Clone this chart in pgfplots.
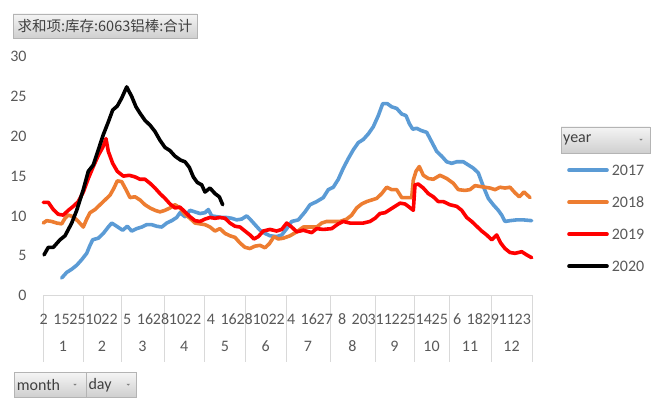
\documentclass[border=0pt]{standalone}
\usepackage{fontspec}
\setmainfont{Carlito}
\newfontfamily\cjk{Noto Sans CJK SC}
\usepackage{pgfplots}
\pgfplotsset{compat=1.18}
\definecolor{c17}{HTML}{5B9BD5}
\definecolor{c18}{HTML}{ED7D31}
\definecolor{c19}{HTML}{FF0000}
\definecolor{txt}{HTML}{595959}
\definecolor{btxt}{HTML}{404040}
\definecolor{sep}{HTML}{D9D9D9}
\definecolor{btop}{HTML}{F4F4F4}
\definecolor{bbot}{HTML}{CFCFCF}
\definecolor{bdraw}{HTML}{B4B4B4}
\begin{document}
\begin{tikzpicture}[x=1pt,y=1pt]
\useasboundingbox (0,0) rectangle (654,406);
\begin{axis}[
 at={(43pt,110.5pt)}, anchor=south west, scale only axis,
 width=489pt, height=238.8pt,
 xmin=43, xmax=532, ymin=0, ymax=30,
 clip=false,
 axis x line*=bottom, axis y line*=left,
 x axis line style={draw=sep, line width=0.8pt, -},
 y axis line style={draw=none},
 ytick={0,5,...,30}, ytick style={draw=none},
 /pgf/number format/assume math mode=true,
 yticklabel style={font=\fontsize{16}{19}\selectfont, text=txt, anchor=east, inner sep=0pt, xshift=-16.3pt},
 xtick={43.7,61.5,77.5,93.5,109.5,127.3,145.1,161.1,177.1,193.1,210.9,228.7,244.7,260.7,276.7,291.3,308.8,324.8,342.3,359.8,371.8,383.8,399.8,411.8,423.8,439.8,457.3,474.8,490.8,506.8,522.8},
 xticklabels={2,15,25,10,22,5,16,28,10,22,4,16,28,10,22,4,16,27,8,20,3,11,22,5,14,25,6,18,29,11,23},
 xticklabel style={font=\fontsize{16}{19}\selectfont, text=txt, anchor=base, inner sep=0pt, yshift=-29.2pt},
 major tick length=0pt,
 minor xtick={43,83,121,164,204.5,245.5,286,330,375,414,449,491,532},
 minor tick length=66.5pt, tick align=outside,
 minor tick style={draw=sep, line width=0.8pt},
 extra x ticks={63,102,142.5,184.25,225,265.75,308,352.5,394.5,431.5,470,511.5},
 extra x tick labels={1,2,3,4,5,6,7,8,9,10,11,12},
 extra x tick style={major tick length=0pt, xticklabel style={yshift=-27pt}},
 every axis plot/.append style={line width=3.6pt, line cap=round, line join=round, mark=none},
 legend style={at={(1.0716,0.5486)}, anchor=north west, draw=none, fill=none,
   inner sep=0pt, row sep=21pt, column sep=3pt,
   font=\fontsize{16}{19}\selectfont, text=txt,
   nodes={inner sep=0pt, text height=11pt, text depth=0pt, anchor=west}},
 legend cell align=left,
 legend image code/.code={\draw[#1] (0pt,0pt) -- (38pt,0pt);},
]
\addplot[c17] coordinates {(61.7,2.2)(66.7,2.9)(71.7,3.3)(76.7,3.8)(81.7,4.5)(86.7,5.3)(90,6.3)(92.7,7.0)(98.3,7.2)(103.3,7.8)(108.3,8.6)(111.7,9.1)(116.7,8.7)(122.7,8.2)(127.3,8.7)(131.7,8.1)(136.7,8.4)(141.7,8.6)(146.7,8.9)(151.7,8.9)(156.7,8.7)(161.7,8.6)(166.7,9.1)(171.7,9.4)(176.7,9.8)(180,10.4)(185,9.9)(190,10.7)(195,10.5)(200,10.3)(205,10.4)(208.3,10.8)(211.7,10.0)(216.7,9.9)(221.7,9.8)(226.7,9.8)(231.7,9.7)(236.7,9.5)(241.7,9.6)(246.7,10.0)(250.7,9.5)(255,8.9)(260,8.2)(265,7.8)(270,7.5)(276.7,7.4)(281.7,7.6)(286.7,8.4)(291.7,9.3)(298.3,9.5)(305,10.5)(310,11.4)(316.7,11.8)(323.3,12.3)(328.3,13.3)(333.3,13.6)(338.3,14.6)(343.3,16.0)(348.3,17.2)(353.3,18.3)(358.3,19.2)(363.3,19.6)(368.3,20.3)(373.3,21.2)(378.3,22.6)(382.7,24.1)(387.3,24.1)(391.7,23.7)(396.7,23.5)(401.7,22.8)(406,22.6)(409.3,21.6)(412.7,20.9)(416.7,21.0)(421.7,20.7)(426.7,20.5)(431.7,19.3)(436.7,18.1)(441.7,17.5)(446.7,16.8)(451.7,16.6)(456.7,16.8)(463.3,16.8)(468.3,16.4)(473.3,16.0)(478.3,15.4)(483.3,13.7)(488.3,12.2)(493.3,11.4)(498.3,10.7)(501.7,10.1)(505,9.3)(510,9.4)(516.7,9.5)(523.3,9.5)(531.7,9.4)};
\addlegendentry{2017}
\addplot[c18] coordinates {(43.3,9.1)(46.7,9.4)(51.7,9.3)(56.7,9.1)(61.7,9.0)(65,9.7)(68.3,10.1)(73.3,9.9)(78.3,9.3)(83.3,8.6)(86.7,9.6)(90,10.4)(95,10.8)(100,11.4)(105,12.0)(110,12.6)(114,13.5)(117.3,14.4)(121.7,14.3)(126,13.3)(130,12.3)(135,12.4)(140,12.0)(145,11.4)(150,11.0)(155,10.7)(160,10.5)(165,10.7)(170,11.0)(175,11.4)(180,11.0)(185,10.2)(190,9.7)(195,9.1)(200,9.0)(205,8.9)(210,8.6)(215,8.1)(220,8.4)(225,7.8)(230,7.5)(235,7.3)(240,6.6)(245,6.05)(250,5.9)(255,6.2)(260,6.3)(265,6.0)(269.3,6.5)(274,7.4)(278.3,7.1)(283.3,7.2)(290,7.5)(296.7,8.0)(303.3,8.6)(310,8.6)(316.7,8.6)(321.7,9.1)(326.7,9.3)(333.3,9.3)(340,9.3)(346.7,9.6)(351.7,10.1)(356.7,11.0)(361.7,11.5)(366.7,11.8)(371.7,12.0)(376.7,12.2)(381.7,12.8)(386.7,13.6)(391.7,13.3)(396.7,13.3)(401.7,12.3)(406.7,12.3)(411.7,12.3)(413.3,14.5)(416,15.6)(419.3,16.2)(423.3,15.1)(428.3,14.7)(433.3,14.6)(440,15.1)(446.7,14.7)(453.3,14.1)(458.3,13.3)(465,13.2)(470,13.3)(475,13.8)(480,13.7)(485,13.6)(490,13.5)(495,13.3)(500,13.6)(505,13.5)(510,13.6)(515,12.9)(519.3,12.4)(524,13.0)(530,12.3)};
\addlegendentry{2018}
\addplot[c19] coordinates {(43.3,11.7)(48.3,11.7)(53.3,10.8)(58.3,10.2)(63.3,10.1)(68.3,10.7)(73.3,11.2)(78.3,11.8)(83.3,13.0)(88.3,14.7)(93.3,16.2)(98.3,17.6)(102.7,18.6)(106,19.7)(108.3,18.1)(112.7,16.6)(117.3,15.6)(123.3,15.0)(129.3,15.1)(135,14.9)(140,14.6)(145,14.6)(150,14.1)(155,13.5)(160,12.8)(165,12.2)(170,11.5)(175,11.0)(180,11.1)(185,10.5)(190,9.9)(195,9.4)(200,9.3)(205,9.6)(210,9.8)(215,9.7)(220,9.8)(225,9.7)(230,9.1)(235,8.7)(240,8.6)(245,8.1)(250,7.6)(254,7.1)(258.3,7.4)(263.3,8.1)(270,8.3)(276.7,8.1)(281.7,8.3)(286.7,9.1)(291.7,8.6)(296.7,8.0)(303.3,8.2)(311.7,7.9)(316.7,8.4)(323.3,8.3)(331.7,8.4)(338.3,9.0)(343.3,9.3)(350,9.1)(356.7,9.1)(363.3,9.1)(370,9.3)(375,9.7)(380,10.3)(385,10.4)(390,10.8)(395,11.2)(400,11.6)(405,11.5)(409.3,11.1)(413.3,10.7)(415,13.9)(418.3,14.0)(423.3,13.5)(428.3,12.8)(433.3,12.4)(438.3,11.8)(443.3,11.8)(450,11.4)(456.7,11.2)(461.7,10.7)(466.7,9.8)(471.7,9.3)(476.7,8.7)(481.7,8.1)(486.7,7.6)(491.7,7.0)(496.7,7.6)(500.7,6.6)(505,5.9)(510,5.4)(515,5.3)(521.7,5.5)(526.7,5.1)(531.7,4.75)};
\addlegendentry{2019}
\addplot[black] coordinates {(44,5.1)(48.3,6.05)(53.3,6.05)(60,7.0)(65,7.5)(71.7,9.1)(76.7,10.7)(83.3,13.3)(88.3,15.6)(93.3,16.4)(98.3,18.3)(103.3,20.2)(108.3,21.8)(112.7,23.3)(117.3,23.8)(121.7,24.8)(126.7,26.2)(131.7,25.0)(136,23.7)(140,22.9)(145,22.0)(150,21.4)(155,20.6)(160,19.5)(165,18.6)(170,18.2)(175,17.5)(180.7,17.0)(185,16.8)(189.3,16.1)(193.3,14.9)(197.3,14.2)(201.7,13.9)(205,13.0)(210,13.5)(215,12.8)(219.3,12.4)(222.7,11.4)};
\addlegendentry{2020}
\end{axis}
% title button
\draw[bdraw, top color=btop, bottom color=bbot, line width=0.6pt] (13,368) rectangle (197,392);
\node[text=btxt, font=\cjk\fontsize{14.5}{17}\selectfont, inner sep=0pt] at (105,380) {求和项:库存:6063铝棒:合计};
% year button
\draw[bdraw, top color=btop, bottom color=bbot, line width=0.6pt] (561,253) rectangle (650,279);
\node[text=btxt, font=\fontsize{16}{19}\selectfont, anchor=west, inner sep=0pt] at (563,266) {year};
\fill[gray] (639.3,267) -- (642.7,267) -- (641,265.3) -- cycle;
% month / day buttons
\draw[bdraw, top color=btop, bottom color=bbot, line width=0.6pt] (14,8.7) rectangle (86,33.3);
\node[text=btxt, font=\fontsize{16}{19}\selectfont, anchor=west, inner sep=0pt] at (16.7,21) {month};
\fill[gray] (73.3,22) -- (76.7,22) -- (75,20.3) -- cycle;
\draw[bdraw, top color=btop, bottom color=bbot, line width=0.6pt] (86,8.7) rectangle (136.7,33.3);
\node[text=btxt, font=\fontsize{16}{19}\selectfont, anchor=west, inner sep=0pt] at (88.3,21) {day};
\fill[gray] (126.6,22) -- (130,22) -- (128.3,20.3) -- cycle;
\end{tikzpicture}
\end{document}
